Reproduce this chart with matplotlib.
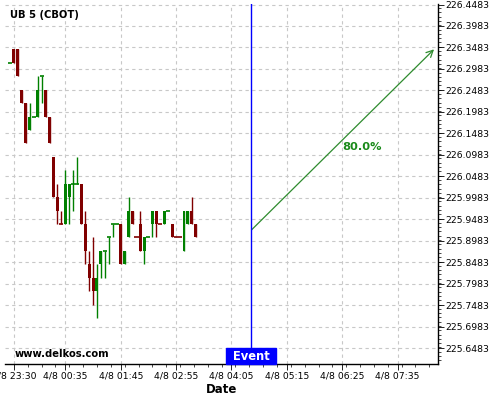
import matplotlib
matplotlib.use("Agg")
import matplotlib.pyplot as plt
from matplotlib.patches import Rectangle
from matplotlib.ticker import FixedLocator, MultipleLocator
import matplotlib.transforms as mtransforms

# 5-minute bars, x = bar index counted from 4/8 23:30
bar_idx = list(range(-1, 47))
# prices in 32nds above 225
opens = [42, 43, 43, 40, 39, 37, 38, 38, 41, 40, 38, 35, 32, 30, 30, 32,
         33, 33, 33, 30, 27, 26, 25, 27, 28, 29, 30, 30, 30, 27, 29, 31,
         29, 30, 28, 29, 30, 31, 30, 30, 31, 30, 29, 29, 28, 30, 31, 30]
highs = [42, 43, 43, 40, 39, 39, 38, 41, 41, 40, 38, 35, 33, 31, 34, 33,
         34, 35, 33, 31, 28, 29, 27, 28, 28, 29, 30, 30, 30, 28, 32, 31,
         29, 31, 29, 29, 31, 31, 30, 31, 31, 30, 29, 29, 31, 31, 32, 30]
lows = [42, 42, 41, 39, 36, 37, 38, 38, 39, 38, 36, 32, 30, 30, 30, 30,
        31, 33, 30, 27, 25, 24, 23, 26, 26, 27, 29, 30, 27, 27, 29, 30,
        29, 28, 27, 29, 29, 29, 30, 30, 31, 29, 29, 29, 28, 30, 30, 29]
closes = [42, 42, 41, 39, 36, 38, 38, 40, 41, 38, 36, 32, 31, 30, 33, 33,
          33, 33, 30, 28, 26, 25, 26, 28, 28, 29, 30, 30, 27, 28, 31, 30,
          29, 28, 29, 29, 31, 30, 30, 31, 31, 29, 29, 29, 31, 31, 30, 29]
# u = up bar (green), d = down bar (dark red); needed for the flat bars
direction = ("u" "dddd" "uuuu" "ddddd" "uuuu" "dddd" "uuuuuu" "d" "uu"
             "ddd" "uuu" "dd" "uu" "ddd" "uu" "dd")

tick_idx = [0, 13, 27, 41, 55, 69, 83, 97]
tick_labels = ["4/8 23:30", "4/8 00:35", "4/8 01:45", "4/8 02:55",
               "4/8 04:05", "4/8 05:15", "4/8 06:25", "4/8 07:35"]
y_ticks = [225.6483 + 0.05 * k for k in range(17)]

event_idx = 60
arrow_start = (60.1, 225.924)
arrow_end = (106.2, 226.344)
prob_text = "80.0%"

to_price = lambda v: [225 + n / 32 for n in v]
o, h, l, c = to_price(opens), to_price(highs), to_price(lows), to_price(closes)

fig = plt.figure(figsize=(5, 4), dpi=100)
ax = fig.add_axes([0.01, 0.09, 0.866, 0.90])

up_col, dn_col = "#008000", "#800000"
w = 0.75
for i, x in enumerate(bar_idx):
    col = up_col if direction[i] == "u" else dn_col
    ax.vlines(x, l[i], h[i], color=col, lw=1, zorder=3)
    lo, hi = min(o[i], c[i]), max(o[i], c[i])
    if hi - lo > 1e-9:
        ax.bar(x, hi - lo, bottom=lo, width=w, color=col, lw=0, zorder=4)
    else:
        ax.hlines(lo, x - w / 2 - 0.15, x + w / 2 + 0.15, color=col, lw=1.2, zorder=4)

ax.set_xlim(-2.25, 107.2)
ax.set_ylim(225.6115, 226.4495)

ax.xaxis.set_major_locator(FixedLocator(tick_idx))
ax.set_xticklabels(tick_labels)
ax.xaxis.set_minor_locator(MultipleLocator(3.5))
ax.yaxis.set_major_locator(FixedLocator(y_ticks))
ax.set_yticklabels([f"{v:.4f}" for v in y_ticks])
ax.yaxis.set_minor_locator(MultipleLocator(0.01))
ax.yaxis.tick_right()

ax.tick_params(axis="both", which="major", labelsize=6.7, length=4, width=0.6, pad=1.5)
ax.tick_params(axis="both", which="minor", length=2, width=0.5)
ax.grid(True, which="major", color="#c8c8c8", linestyle=(0, (3, 3)), lw=0.8)
ax.set_axisbelow(True)

for s in ["left", "top"]:
    ax.spines[s].set_visible(False)
ax.spines["right"].set_linewidth(1)
ax.spines["bottom"].set_linewidth(1)

ax.set_xlabel("Date", fontsize=8.5, fontweight="bold", labelpad=2)

# event marker
ax.axvline(event_idx, color="#0000ff", lw=1, zorder=5)
trans = mtransforms.blended_transform_factory(ax.transData, ax.transAxes)
ax.add_patch(Rectangle((53.6, 0), 12.6, 16 / 360, transform=trans,
                       color="#0000ff", zorder=6, clip_on=False))
ax.text(event_idx, 8 / 360, "Event", transform=trans, color="white",
        fontsize=8.3, fontweight="bold", ha="center", va="center", zorder=7)

ax.annotate("", xy=arrow_end, xytext=arrow_start,
            arrowprops=dict(arrowstyle="->", color="#2e8b2e", lw=0.9,
                            mutation_scale=12, shrinkA=0, shrinkB=0))
ax.text(88.1, 226.117, prob_text, color="#1a8a1a", fontsize=8.2,
        fontweight="bold", ha="center", va="center")

ax.text(0.0115, 0.969, "UB 5 (CBOT)", transform=ax.transAxes,
        fontsize=7.2, fontweight="bold", va="center")
ax.text(0.023, 0.028, "www.delkos.com", transform=ax.transAxes,
        fontsize=7.2, fontweight="bold", va="center")

fig.savefig("out.png", dpi=100)
